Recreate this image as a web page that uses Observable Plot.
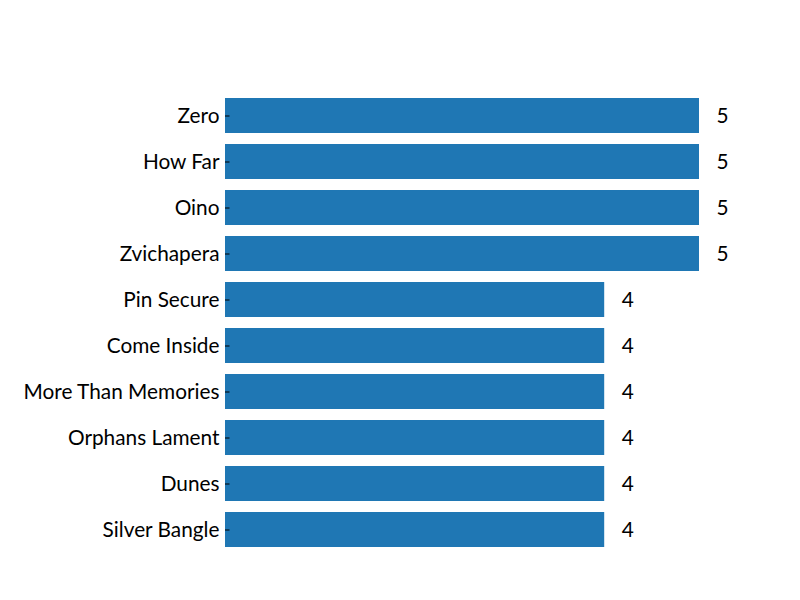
<!DOCTYPE html>
<html>
<head>
<meta charset="utf-8">
<script src="https://cdn.jsdelivr.net/npm/d3@7"></script>
<script src="https://cdn.jsdelivr.net/npm/@observablehq/plot@0.6"></script>
<style>
  html, body { margin: 0; padding: 0; background: #fff; }
  #chart { width: 800px; height: 600px; }
</style>
</head>
<body>
<div id="chart"></div>
<script>
const songs = ["Zero", "How Far", "Oino", "Zvichapera", "Pin Secure", "Come Inside", "More Than Memories", "Orphans Lament", "Dunes", "Silver Bangle"];
const counts = [5, 5, 5, 5, 4, 4, 4, 4, 4, 4];

const data = songs.map((s, i) => ({song: s, count: counts[i]}));

const chart = Plot.plot({
  width: 800,
  height: 600,
  marginLeft: 225,
  marginRight: 101,
  marginTop: 92.5,
  marginBottom: 47.5,
  style: {fontFamily: "Lato, 'Open Sans', sans-serif", fontSize: "20.8px", color: "#000", background: "#fff"},
  x: {domain: [0, 5], axis: null},
  y: {domain: songs, paddingInner: 0.24, paddingOuter: 0.12},
  marks: [
    Plot.barX(data, {x: "count", y: "song", fill: "#1f77b4"}),
    Plot.text(data, {x: "count", y: "song", text: d => String(d.count), textAnchor: "start", dx: 17, fontSize: 20.8, fill: "#000"}),
    Plot.axisY({tickSize: -4.5, tickPadding: 10.5, label: null, fontSize: 20.8, stroke: "#000", strokeWidth: 1})
  ]
});
document.getElementById("chart").appendChild(chart);
</script>
</body>
</html>
